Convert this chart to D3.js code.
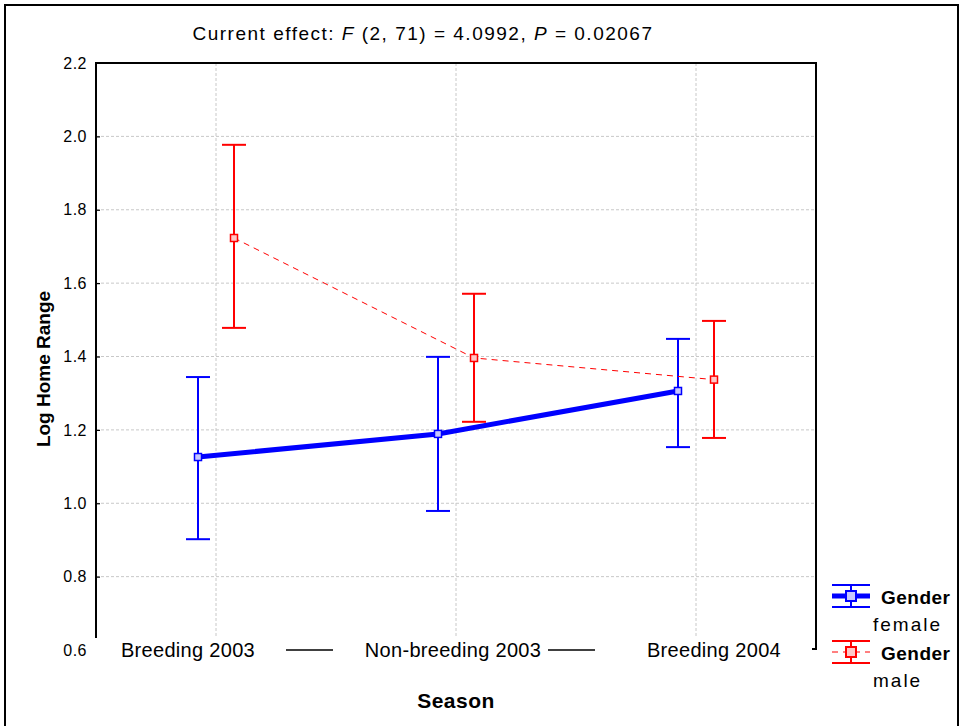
<!DOCTYPE html>
<html>
<head>
<meta charset="utf-8">
<script src="https://cdn.jsdelivr.net/npm/d3@7"></script>
<style>
  body { margin: 0; background: #fff; }
  text { font-family: "Liberation Sans", Arial, sans-serif; fill: #000; }
</style>
</head>
<body>
<div id="chart"></div>
<script>
// Seasons on the x axis
const seasons = ["Breeding 2003", "Non-breeding 2003", "Breeding 2004"];

// Log home range means and 95% CI bounds, per gender
const femaleMean  = [1.126, 1.189, 1.306];
const femaleLower = [0.902, 0.979, 1.153];
const femaleUpper = [1.344, 1.399, 1.448];

const maleMean  = [1.723, 1.396, 1.337];
const maleLower = [1.478, 1.222, 1.178];
const maleUpper = [1.977, 1.571, 1.497];

const yTicks = [0.6, 0.8, 1.0, 1.2, 1.4, 1.6, 1.8, 2.0, 2.2];

const W = 963, H = 726;
const plot = { left: 96, right: 816, top: 63, bottom: 650 };

const svg = d3.select("#chart").append("svg")
  .attr("width", W)
  .attr("height", H);

// outer border of the figure
svg.append("path")
  .attr("d", `M5,${H} V5 H958 V${H}`)
  .attr("fill", "none")
  .attr("stroke", "#000")
  .attr("stroke-width", 2);

const x = d3.scaleBand()
  .domain(seasons)
  .range([plot.left, plot.right])
  .padding(0);

const y = d3.scaleLinear()
  .domain([0.6, 2.2])
  .range([plot.bottom, plot.top]);

const offset = 18;

// grid lines
const grid = svg.append("g").attr("class", "grid");
grid.selectAll("line.h")
  .data(yTicks.filter(d => d > 0.6 && d < 2.2))
  .enter().append("line")
  .attr("x1", plot.left).attr("x2", plot.right)
  .attr("y1", d => y(d)).attr("y2", d => y(d))
  .attr("stroke", "#c8c8c8")
  .attr("stroke-dasharray", "3,2");
grid.selectAll("line.v")
  .data(seasons)
  .enter().append("line")
  .attr("x1", d => x(d) + x.bandwidth() / 2)
  .attr("x2", d => x(d) + x.bandwidth() / 2)
  .attr("y1", plot.top).attr("y2", y(0.6) - 12)
  .attr("stroke", "#c8c8c8")
  .attr("stroke-dasharray", "3,2");

// frame: left axis, top, right
svg.append("path")
  .attr("d", `M${plot.left},${y(0.6) - 12} V${plot.top} H${plot.right} V${y(0.6) - 1} H${plot.right - 4}`)
  .attr("fill", "none")
  .attr("stroke", "#000")
  .attr("stroke-width", 2);

// y axis
const yAxis = svg.append("g")
  .attr("transform", `translate(${plot.left},0)`)
  .call(d3.axisLeft(y)
    .tickValues(yTicks)
    .tickFormat(d3.format(".1f"))
    .tickSizeInner(-4)
    .tickSizeOuter(0)
    .tickPadding(9));
yAxis.select(".domain").remove();
yAxis.selectAll(".tick line").attr("stroke", "#000").attr("stroke-width", 1.2);
yAxis.selectAll(".tick").filter(d => d === 0.6 || d === 2.2).select("line").remove();
yAxis.selectAll("text")
  .attr("font-family", "'Liberation Sans', Arial, sans-serif")
  .attr("font-size", 16)
  .style("letter-spacing", "0.5px")
  .attr("fill", "#000");

// category labels with connecting dashes
const xLabelY = y(0.6);
svg.selectAll("text.cat")
  .data(seasons)
  .enter().append("text")
  .attr("class", "cat")
  .attr("x", (d, i) => x(d) + x.bandwidth() / 2 + [-28, -3, 18][i])
  .attr("y", xLabelY + 7)
  .attr("text-anchor", "middle")
  .style("font-size", "20px")
  .style("letter-spacing", "0.3px")
  .text(d => d);
svg.selectAll("line.catdash")
  .data([0, 1])
  .enter().append("line")
  .attr("x1", i => x(seasons[i]) + x.bandwidth() - 50 + i * 22)
  .attr("x2", i => x(seasons[i]) + x.bandwidth() - 3 + i * 22)
  .attr("y1", xLabelY).attr("y2", xLabelY)
  .attr("stroke", "#000")
  .attr("stroke-width", 1.5);

// title
const title = svg.append("text")
  .attr("x", 423)
  .attr("y", 40)
  .attr("text-anchor", "middle")
  .style("font-size", "19px")
  .style("letter-spacing", "1.5px");
title.append("tspan").text("Current effect: ");
title.append("tspan").style("font-style", "italic").text("F");
title.append("tspan").text(" (2, 71) = 4.0992, ");
title.append("tspan").style("font-style", "italic").text("P");
title.append("tspan").text(" = 0.02067");

// axis titles
svg.append("text")
  .attr("transform", `translate(50,369) rotate(-90)`)
  .attr("text-anchor", "middle")
  .style("font-size", "19px")
  .style("font-weight", "bold")
  .text("Log Home Range");

svg.append("text")
  .attr("x", 456)
  .attr("y", 708)
  .attr("text-anchor", "middle")
  .style("font-size", "21px")
  .style("font-weight", "bold")
  .style("letter-spacing", "0.5px")
  .text("Season");

// series
const series = [
  { name: "female", mean: femaleMean, lo: femaleLower, hi: femaleUpper, dx: -offset,
    color: "#0000ff", fill: "#c8c8ff", width: 5, dash: null },
  { name: "male", mean: maleMean, lo: maleLower, hi: maleUpper, dx: offset,
    color: "#ff0000", fill: "#ffc8c8", width: 1, dash: "6,5" }
];

series.forEach(s => {
  const pts = seasons.map((d, i) => ({
    x: x(d) + x.bandwidth() / 2 + s.dx,
    m: s.mean[i], lo: s.lo[i], hi: s.hi[i]
  }));

  const line = d3.line().x(d => d.x).y(d => y(d.m));
  svg.append("path")
    .datum(pts)
    .attr("d", line)
    .attr("fill", "none")
    .attr("stroke", s.color)
    .attr("stroke-width", s.width)
    .attr("stroke-dasharray", s.dash);

  const g = svg.append("g");
  g.selectAll("line.bar")
    .data(pts).enter().append("line")
    .attr("x1", d => d.x).attr("x2", d => d.x)
    .attr("y1", d => y(d.lo)).attr("y2", d => y(d.hi))
    .attr("stroke", s.color).attr("stroke-width", 2);
  ["lo", "hi"].forEach(k => {
    g.selectAll("line.cap" + k)
      .data(pts).enter().append("line")
      .attr("x1", d => d.x - 12).attr("x2", d => d.x + 12)
      .attr("y1", d => y(d[k])).attr("y2", d => y(d[k]))
      .attr("stroke", s.color).attr("stroke-width", 2);
  });
  g.selectAll("rect.pt")
    .data(pts).enter().append("rect")
    .attr("x", d => d.x - 3.5).attr("y", d => y(d.m) - 3.5)
    .attr("width", 7).attr("height", 7)
    .attr("fill", s.fill)
    .attr("stroke", s.color).attr("stroke-width", 1.5);
});

// legend
const legend = svg.append("g");
series.forEach((s, i) => {
  const cy = 596 + i * 56;
  const gx = 851;
  const item = legend.append("g");
  item.append("line").attr("x1", gx - 19).attr("x2", gx + 19)
    .attr("y1", cy).attr("y2", cy)
    .attr("stroke", s.color).attr("stroke-width", s.width)
    .attr("stroke-dasharray", s.dash);
  item.append("line").attr("x1", gx).attr("x2", gx)
    .attr("y1", cy - 11).attr("y2", cy + 11)
    .attr("stroke", s.color).attr("stroke-width", 2);
  [-11, 11].forEach(dy => {
    item.append("line").attr("x1", gx - 19).attr("x2", gx + 19)
      .attr("y1", cy + dy).attr("y2", cy + dy)
      .attr("stroke", s.color).attr("stroke-width", 2);
  });
  item.append("rect")
    .attr("x", gx - 5).attr("y", cy - 5).attr("width", 10).attr("height", 10)
    .attr("fill", s.fill).attr("stroke", s.color).attr("stroke-width", 2);
  item.append("text")
    .attr("x", 881).attr("y", cy + 8)
    .style("font-size", "19px").style("font-weight", "bold")
    .style("letter-spacing", "0.5px")
    .text("Gender");
  item.append("text")
    .attr("x", 873).attr("y", cy + 35)
    .style("font-size", "19px").style("letter-spacing", "2px")
    .text(s.name);
});
</script>
</body>
</html>
